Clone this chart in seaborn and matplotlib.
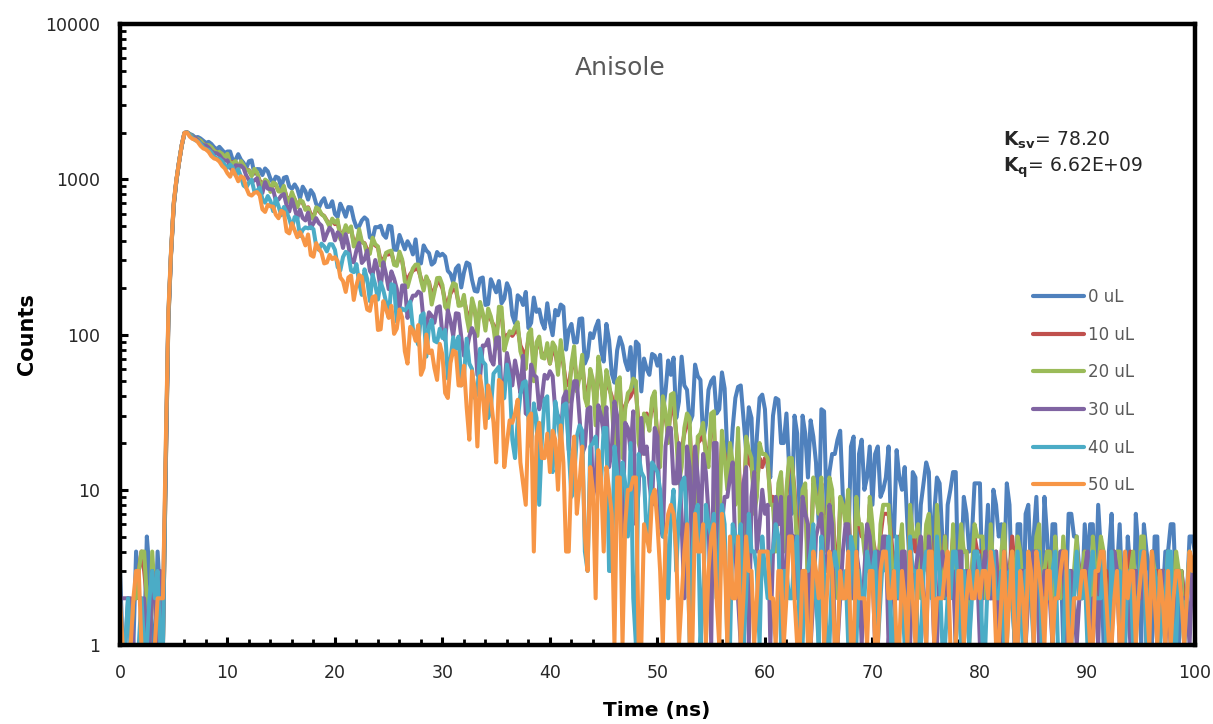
import numpy as np
import pandas as pd
import matplotlib
matplotlib.use("Agg")
import matplotlib.pyplot as plt
from matplotlib.ticker import MultipleLocator, FuncFormatter, NullFormatter, LogLocator
import seaborn as sns

# Photon counts per 0.25 ns channel, 0 to 100 ns
time_ns = np.arange(0, 100.25, 0.25)

series_labels = ["0 uL", "10 uL", "20 uL", "30 uL", "40 uL", "50 uL"]
series_colors = ["#4F81BD", "#C0504D", "#9BBB59", "#8064A2", "#4BACC6", "#F79646"]

counts_0uL = [
    3, 1, 1, 2, 1, 1, 4, 2, 2, 1, 5, 3, 1, 1, 4, 2, 2, 14, 130, 335, 690, 985, 1300, 1660, 1990, 2008, 1958, 1925, 1860, 1872, 1830, 1770, 1715, 1742, 1690, 1610, 1560, 1618, 1545, 1478,
    1510, 1510, 1320, 1335, 1451, 1338, 1276, 1180, 1307, 1324, 1087, 1164, 1161, 1065, 1174, 1126, 1007, 946, 1040, 1020, 889, 1023, 1037, 899, 869, 927, 867, 754, 896, 838, 740, 851, 801, 695, 653, 717, 755, 663, 665, 722,
    597, 572, 696, 637, 574, 662, 659, 551, 491, 497, 543, 568, 548, 422, 412, 492, 491, 502, 440, 420, 502, 496, 353, 351, 438, 394, 354, 399, 371, 328, 410, 290, 287, 375, 348, 334, 282, 292, 340, 322,
    331, 318, 257, 246, 216, 266, 279, 201, 251, 291, 284, 225, 191, 189, 229, 233, 155, 157, 227, 206, 187, 221, 159, 170, 214, 195, 133, 118, 179, 172, 155, 188, 110, 119, 173, 140, 145, 120, 109, 159,
    119, 99, 144, 133, 156, 151, 80, 107, 117, 89, 89, 126, 127, 65, 72, 102, 95, 111, 123, 79, 67, 117, 92, 56, 49, 79, 96, 85, 67, 59, 83, 45, 90, 86, 43, 70, 60, 55, 75, 73,
    63, 74, 31, 43, 68, 55, 71, 29, 37, 72, 47, 44, 27, 30, 64, 54, 51, 21, 26, 44, 50, 53, 31, 33, 57, 45, 17, 13, 25, 39, 46, 47, 29, 18, 34, 29, 10, 22, 39, 41,
    33, 14, 12, 30, 39, 38, 20, 20, 31, 14, 7, 30, 23, 6, 30, 23, 12, 28, 22, 15, 6, 33, 32, 7, 13, 17, 17, 21, 24, 9, 7, 4, 19, 22, 2, 17, 21, 10, 12, 19,
    8, 17, 19, 9, 10, 12, 19, 5, 5, 18, 12, 10, 14, 6, 3, 13, 12, 3, 8, 11, 15, 13, 3, 7, 12, 11, 5, 2, 8, 10, 13, 13, 2, 3, 9, 7, 4, 5, 11, 11,
    11, 2, 4, 8, 2, 10, 8, 5, 6, 3, 11, 8, 2, 1, 6, 6, 1, 7, 8, 3, 5, 9, 3, 2, 9, 5, 2, 6, 6, 2, 4, 1, 2, 7, 7, 5, 5, 3, 2, 6,
    3, 6, 6, 2, 8, 4, 1, 1, 4, 7, 2, 3, 6, 2, 1, 5, 3, 1, 7, 4, 1, 6, 4, 3, 1, 5, 5, 1, 2, 4, 4, 6, 6, 2, 1, 3, 2, 2, 5, 5,
    4,
]

counts_10uL = [
    1, 1, 1, 1, 1, 2, 2, 3, 4, 3, 2, 1, 3, 2, 1, 1, 1, 12, 120, 328, 675, 978, 1292, 1655, 1985, 2000, 1940, 1876, 1842, 1808, 1768, 1695, 1658, 1652, 1605, 1535, 1497, 1492, 1452, 1400,
    1432, 1285, 1290, 1295, 1182, 1280, 1212, 1150, 1145, 1062, 1138, 1090, 980, 930, 982, 955, 860, 935, 912, 845, 840, 880, 770, 732, 805, 745, 680, 722, 705, 648, 660, 594, 577, 642, 625, 596, 580, 542, 510, 546,
    514, 526, 442, 450, 485, 460, 472, 393, 399, 448, 393, 388, 350, 348, 395, 375, 364, 300, 305, 327, 328, 335, 290, 284, 318, 298, 240, 225, 245, 258, 264, 263, 230, 207, 228, 218, 178, 195, 216, 216,
    198, 165, 160, 184, 196, 193, 160, 158, 169, 140, 122, 158, 142, 115, 150, 134, 117, 137, 125, 115, 96, 135, 134, 91, 99, 102, 98, 104, 109, 85, 78, 72, 94, 97, 63, 84, 88, 75, 74, 80,
    65, 80, 76, 61, 80, 64, 48, 47, 61, 72, 50, 52, 65, 44, 42, 55, 48, 35, 61, 48, 37, 52, 45, 40, 28, 45, 46, 25, 35, 38, 40, 44, 43, 26, 24, 30, 31, 27, 34, 36,
    22, 19, 34, 29, 23, 33, 34, 23, 16, 18, 23, 27, 25, 11, 11, 20, 21, 23, 18, 16, 26, 26, 10, 10, 20, 17, 13, 17, 14, 11, 21, 7, 8, 18, 15, 14, 10, 11, 16, 14,
    16, 15, 9, 9, 5, 10, 12, 5, 9, 15, 15, 10, 5, 6, 9, 10, 3, 4, 11, 9, 8, 11, 5, 6, 11, 9, 4, 3, 8, 8, 7, 9, 3, 3, 8, 6, 5, 5, 4, 8,
    5, 4, 3, 5, 7, 7, 7, 5, 3, 4, 5, 5, 2, 2, 7, 5, 4, 5, 3, 3, 5, 6, 4, 3, 7, 4, 3, 5, 3, 3, 5, 2, 2, 5, 4, 4, 2, 3, 5, 4,
    4, 4, 3, 3, 5, 3, 4, 2, 3, 5, 2, 3, 5, 3, 4, 3, 3, 2, 2, 3, 3, 4, 5, 2, 2, 4, 4, 2, 4, 3, 3, 4, 2, 3, 3, 2, 4, 3, 2, 4,
    3, 2, 4, 3, 2, 4, 3, 3, 2, 3, 4, 3, 3, 2, 2, 3, 4, 3, 3, 2, 4, 4, 2, 2, 3, 3, 3, 2, 3, 3, 3, 2, 2, 3, 2, 3, 2, 2, 3, 3,
    2,
]

counts_20uL = [
    1, 1, 1, 1, 1, 2, 2, 3, 4, 4, 2, 1, 4, 2, 1, 1, 1, 12, 118, 325, 670, 975, 1290, 1650, 1985, 2002, 1945, 1880, 1835, 1815, 1775, 1690, 1650, 1660, 1612, 1530, 1490, 1500, 1460, 1395,
    1460, 1261, 1272, 1310, 1154, 1309, 1231, 1142, 1140, 1047, 1168, 1108, 958, 904, 996, 965, 829, 954, 932, 835, 832, 907, 753, 713, 828, 742, 660, 735, 718, 635, 654, 574, 554, 660, 644, 596, 577, 536, 496, 558,
    525, 549, 411, 444, 506, 460, 497, 369, 381, 477, 398, 383, 326, 331, 421, 382, 369, 278, 286, 336, 343, 347, 281, 277, 342, 305, 220, 202, 234, 267, 282, 282, 223, 192, 237, 215, 156, 187, 231, 232,
    208, 151, 143, 192, 214, 210, 153, 154, 180, 129, 104, 171, 147, 98, 162, 138, 106, 147, 131, 110, 81, 151, 150, 79, 92, 105, 102, 112, 120, 78, 68, 60, 101, 108, 50, 89, 97, 71, 70, 88,
    65, 89, 83, 55, 92, 67, 38, 37, 65, 84, 43, 53, 74, 39, 34, 60, 51, 26, 72, 53, 30, 59, 49, 36, 19, 50, 53, 16, 33, 42, 44, 52, 50, 20, 17, 31, 29, 24, 39, 43,
    18, 14, 40, 32, 20, 41, 42, 22, 11, 14, 25, 31, 29, 4, 5, 22, 23, 27, 16, 14, 31, 32, 5, 5, 24, 16, 10, 20, 15, 8, 25, 3, 4, 22, 18, 16, 7, 9, 20, 17,
    17, 16, 8, 8, 4, 11, 13, 4, 10, 16, 16, 9, 4, 5, 10, 11, 2, 3, 12, 9, 7, 12, 4, 6, 12, 10, 3, 2, 9, 8, 6, 10, 2, 2, 9, 6, 6, 4, 3, 9,
    6, 3, 2, 6, 8, 8, 8, 4, 2, 3, 4, 6, 2, 1, 8, 5, 5, 6, 2, 3, 6, 7, 3, 2, 8, 4, 2, 5, 2, 2, 6, 1, 3, 6, 4, 4, 1, 3, 6, 5,
    5, 5, 2, 2, 6, 3, 3, 1, 4, 6, 2, 3, 4, 2, 5, 4, 2, 1, 3, 3, 2, 5, 6, 2, 3, 4, 4, 1, 5, 3, 2, 5, 3, 2, 2, 3, 5, 2, 3, 4,
    2, 1, 5, 3, 3, 5, 4, 2, 1, 2, 3, 4, 4, 1, 2, 3, 3, 4, 2, 2, 5, 5, 1, 1, 4, 3, 2, 3, 3, 2, 4, 1, 2, 4, 3, 3, 1, 2, 4, 3,
    3,
]

counts_30uL = [
    2, 2, 2, 2, 2, 1, 1, 1, 1, 2, 1, 1, 3, 2, 1, 3, 1, 13, 125, 330, 680, 980, 1295, 1655, 1988, 2003, 1925, 1866, 1840, 1790, 1705, 1660, 1650, 1600, 1520, 1478, 1470, 1432, 1355, 1318,
    1324, 1192, 1128, 1231, 1224, 1224, 1178, 1056, 989, 962, 983, 1016, 857, 816, 959, 870, 864, 856, 729, 740, 784, 803, 680, 620, 743, 649, 562, 638, 563, 543, 610, 484, 520, 562, 522, 503, 404, 446, 488, 467,
    404, 455, 435, 361, 443, 375, 296, 292, 349, 389, 289, 304, 348, 257, 242, 302, 256, 197, 292, 245, 196, 255, 229, 197, 145, 207, 207, 128, 161, 178, 178, 189, 184, 121, 112, 139, 132, 119, 149, 152,
    99, 92, 143, 122, 98, 137, 136, 96, 73, 79, 97, 110, 100, 55, 53, 85, 85, 93, 69, 64, 95, 96, 42, 44, 76, 62, 47, 68, 55, 42, 73, 31, 30, 64, 55, 53, 33, 39, 55, 52,
    58, 54, 32, 30, 21, 39, 43, 18, 36, 50, 50, 29, 17, 19, 33, 34, 9, 11, 35, 30, 23, 34, 14, 18, 37, 30, 9, 5, 27, 25, 18, 32, 6, 10, 29, 17, 19, 11, 8, 25,
    22, 6, 5, 19, 25, 25, 11, 11, 20, 6, 2, 19, 14, 3, 19, 12, 5, 17, 13, 7, 1, 20, 20, 2, 6, 9, 9, 12, 15, 4, 2, 1, 11, 14, 1, 9, 13, 4, 6, 10,
    7, 8, 1, 4, 9, 6, 9, 2, 3, 9, 5, 5, 2, 3, 9, 7, 6, 1, 2, 5, 6, 7, 3, 3, 8, 6, 1, 1, 2, 4, 6, 6, 3, 2, 4, 3, 1, 3, 6, 5,
    3, 1, 4, 3, 5, 5, 1, 2, 3, 2, 2, 4, 4, 1, 1, 3, 3, 4, 5, 2, 1, 5, 3, 1, 1, 3, 4, 3, 2, 2, 3, 1, 4, 4, 1, 3, 2, 2, 4, 3,
    1, 3, 4, 2, 2, 2, 4, 1, 1, 4, 3, 2, 3, 1, 1, 3, 3, 1, 2, 2, 4, 4, 1, 2, 3, 3, 2, 1, 2, 2, 4, 4, 1, 1, 3, 2, 1, 2, 3, 3,
    4, 1, 2, 2, 1, 4, 3, 2, 2, 1, 4, 3, 1, 1, 3, 2, 1, 3, 3, 2, 2, 4, 1, 1, 4, 2, 1, 3, 3, 1, 2, 1, 1, 3, 3, 2, 2, 2, 1, 3,
    2,
]

counts_40uL = [
    1, 1, 1, 2, 1, 1, 1, 1, 2, 1, 1, 2, 3, 2, 3, 1, 1, 16, 135, 340, 700, 990, 1310, 1665, 1992, 2005, 1930, 1850, 1785, 1760, 1700, 1610, 1562, 1545, 1490, 1405, 1366, 1355, 1310, 1235,
    1187, 1241, 1189, 1061, 1161, 1044, 911, 886, 952, 992, 835, 841, 885, 744, 707, 780, 723, 623, 754, 671, 586, 663, 613, 557, 484, 571, 562, 431, 472, 490, 483, 492, 477, 372, 351, 385, 369, 343, 382, 381,
    351, 272, 259, 316, 341, 331, 258, 252, 284, 215, 180, 263, 227, 164, 243, 209, 168, 217, 193, 163, 129, 211, 207, 121, 135, 147, 143, 150, 163, 109, 96, 86, 132, 137, 72, 113, 124, 91, 89, 109,
    95, 107, 52, 69, 96, 81, 97, 47, 54, 94, 65, 60, 39, 42, 81, 67, 64, 29, 33, 56, 59, 62, 38, 39, 64, 51, 21, 16, 28, 41, 49, 50, 29, 19, 36, 29, 8, 21, 38, 40,
    15, 13, 37, 29, 19, 35, 36, 18, 9, 12, 22, 26, 24, 4, 3, 19, 20, 22, 14, 11, 25, 25, 3, 3, 19, 13, 7, 15, 11, 5, 20, 2, 1, 17, 13, 12, 5, 6, 15, 14,
    13, 10, 5, 5, 2, 7, 10, 3, 7, 11, 12, 6, 1, 4, 7, 8, 1, 2, 8, 6, 5, 7, 2, 4, 8, 6, 1, 1, 6, 5, 4, 6, 1, 2, 7, 4, 4, 3, 1, 5,
    3, 2, 4, 4, 6, 5, 1, 3, 3, 2, 2, 4, 5, 1, 1, 3, 3, 4, 6, 2, 1, 5, 3, 1, 1, 3, 4, 3, 2, 2, 3, 1, 5, 4, 1, 3, 2, 2, 4, 3,
    3, 4, 1, 2, 4, 3, 5, 1, 1, 5, 2, 2, 1, 1, 5, 3, 3, 1, 1, 3, 4, 4, 2, 2, 5, 3, 1, 1, 2, 2, 4, 4, 2, 1, 3, 2, 1, 2, 4, 4,
    3, 1, 1, 3, 4, 4, 2, 2, 3, 1, 1, 3, 2, 1, 4, 2, 1, 3, 3, 2, 1, 4, 4, 1, 2, 2, 2, 3, 4, 1, 1, 1, 3, 3, 1, 2, 4, 2, 2, 3,
    1, 3, 4, 2, 2, 2, 4, 1, 1, 4, 2, 2, 3, 1, 1, 3, 3, 1, 2, 2, 4, 4, 1, 2, 3, 3, 2, 1, 2, 2, 4, 4, 1, 1, 3, 2, 1, 2, 4, 3,
    3,
]

counts_50uL = [
    2, 1, 1, 1, 1, 2, 3, 3, 1, 1, 1, 1, 1, 1, 2, 2, 2, 18, 140, 345, 710, 1000, 1300, 1670, 1995, 2000, 1880, 1820, 1800, 1735, 1640, 1580, 1555, 1500, 1410, 1362, 1345, 1300, 1220, 1175,
    1092, 1039, 1154, 1064, 971, 1046, 1021, 881, 800, 785, 818, 828, 788, 640, 616, 684, 670, 666, 591, 561, 627, 611, 461, 448, 521, 469, 423, 457, 421, 375, 441, 325, 317, 388, 357, 337, 287, 291, 326, 306,
    315, 296, 233, 221, 188, 233, 240, 167, 208, 242, 235, 178, 145, 142, 174, 177, 107, 108, 164, 146, 128, 153, 101, 109, 145, 129, 78, 65, 112, 106, 91, 115, 55, 61, 100, 76, 79, 61, 51, 87,
    74, 42, 39, 66, 79, 77, 47, 47, 63, 34, 21, 58, 45, 19, 54, 41, 25, 47, 39, 27, 15, 51, 49, 14, 20, 28, 27, 31, 38, 15, 11, 8, 29, 31, 4, 22, 27, 16, 16, 23,
    13, 24, 21, 10, 26, 15, 4, 4, 14, 22, 7, 11, 19, 5, 3, 14, 10, 2, 18, 12, 4, 14, 10, 7, 1, 12, 12, 1, 6, 10, 10, 12, 12, 1, 1, 6, 5, 4, 9, 10,
    6, 3, 1, 5, 7, 8, 7, 4, 1, 2, 4, 6, 1, 1, 7, 4, 4, 6, 1, 3, 5, 6, 2, 1, 7, 4, 1, 5, 2, 2, 5, 1, 2, 5, 3, 3, 1, 2, 4, 4,
    4, 4, 2, 2, 1, 3, 3, 1, 2, 5, 5, 2, 1, 1, 3, 3, 1, 1, 4, 3, 2, 4, 1, 2, 4, 3, 1, 1, 3, 2, 2, 4, 1, 1, 4, 2, 2, 2, 1, 3,
    3, 1, 1, 3, 4, 4, 2, 2, 3, 1, 1, 3, 2, 1, 4, 2, 1, 3, 3, 2, 1, 4, 4, 1, 2, 2, 2, 3, 4, 1, 1, 1, 3, 3, 1, 2, 3, 2, 2, 3,
    2, 3, 3, 2, 4, 3, 1, 1, 2, 4, 1, 2, 4, 1, 1, 3, 2, 1, 4, 3, 1, 4, 3, 2, 1, 3, 3, 1, 2, 2, 3, 4, 4, 1, 1, 2, 2, 2, 3, 3,
    2, 1, 1, 3, 3, 4, 4, 2, 1, 1, 2, 3, 1, 1, 4, 2, 3, 3, 1, 2, 3, 4, 2, 1, 4, 2, 1, 3, 2, 1, 3, 1, 2, 3, 3, 2, 1, 2, 4, 3,
    4,
]

all_counts = [counts_0uL, counts_10uL, counts_20uL, counts_30uL, counts_40uL, counts_50uL]
for lab, c in zip(series_labels, all_counts):
    assert len(c) == len(time_ns), (lab, len(c))

df = pd.concat(
    [pd.DataFrame({"Time (ns)": time_ns, "Counts": c, "Quencher": lab})
     for c, lab in zip(all_counts, series_labels)],
    ignore_index=True,
)

sns.set_theme(style="ticks")
plt.rcParams["font.family"] = ["DejaVu Sans"]

fig = plt.figure(figsize=(12.13, 7.24), dpi=100)
ax = fig.add_axes([0.0989, 0.1091, 0.8862, 0.8577])

sns.lineplot(
    data=df, x="Time (ns)", y="Counts", hue="Quencher",
    hue_order=series_labels, palette=series_colors,
    estimator=None, sort=False, linewidth=2.9, ax=ax,
)

ax.set_yscale("log")
ax.set_ylim(1, 10000)
ax.set_xlim(0, 100)

ax.xaxis.set_major_locator(MultipleLocator(10))
ax.xaxis.set_minor_locator(MultipleLocator(2))
ax.yaxis.set_major_locator(LogLocator(base=10, numticks=10))
ax.yaxis.set_minor_locator(LogLocator(base=10, subs=range(2, 10), numticks=50))
ax.yaxis.set_major_formatter(FuncFormatter(lambda v, _: f"{v:g}"))
ax.yaxis.set_minor_formatter(NullFormatter())

ax.tick_params(which="major", direction="in", length=6, width=2.2, pad=14,
               labelsize=12.5, labelcolor="#262626", color="black")
ax.tick_params(which="minor", direction="in", length=4.5, width=2.0, color="black")

for s in ax.spines.values():
    s.set_linewidth(3.2)
    s.set_color("black")

ax.set_xlabel("Time (ns)", fontsize=14.5, fontweight="bold", color="black", ha="center", va="center")
ax.set_ylabel("Counts", fontsize=15, fontweight="bold", color="black", ha="center", va="center")
ax.xaxis.set_label_coords(0.4995, -0.106)
ax.yaxis.set_label_coords(-0.0865, 0.5)

ax.text(0.465, 0.929, "Anisole", transform=ax.transAxes, ha="center", va="center",
        fontsize=18, color="#595959")
ax.text(0.8214, 0.813, r"$\mathbf{K_{sv}}$= 78.20", transform=ax.transAxes,
        ha="left", va="center", fontsize=13.5, color="#262626")
ax.text(0.8214, 0.768, r"$\mathbf{K_{q}}$= 6.62E+09", transform=ax.transAxes,
        ha="left", va="center", fontsize=13.5, color="#262626")

handles, labels = ax.get_legend_handles_labels()
leg = ax.legend(handles, labels, loc="upper left", bbox_to_anchor=(0.849, 0.575),
                frameon=False, fontsize=12, labelcolor="#595959", handlelength=3.1,
                handletextpad=0.25, labelspacing=1.18, borderpad=0, borderaxespad=0)
for line in leg.get_lines():
    line.set_linewidth(3)

fig.savefig("out.png", dpi=100)
